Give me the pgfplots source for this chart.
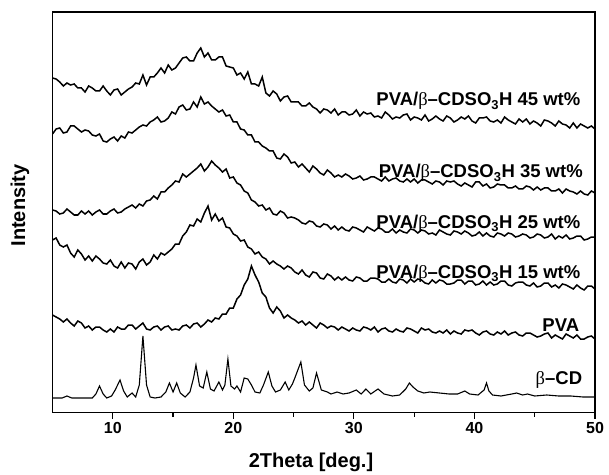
\documentclass[border=0pt]{standalone}
\usepackage{pgfplots}
\pgfplotsset{compat=1.18}
\usepackage{fontspec}
\setmainfont{Liberation Sans}
\newfontfamily\grk{Liberation Serif}
\newcommand{\lab}[1]{PVA/{\grk\mdseries β}–CDSO\textsubscript{3}H #1 wt\%}
\begin{document}
\begin{tikzpicture}
\begin{axis}[
  scale only axis, width=542.5pt, height=400.7pt,
  xmin=5, xmax=50, ymin=61.3, ymax=462,
  xtick={10,20,30,40,50}, minor xtick={15,25,35,45},
  ytick=\empty,
  xtick pos=bottom, tick align=outside,
  major tick length=6pt, minor tick length=4pt,
  every tick/.style={black, line width=1.2pt},
  axis line style={line width=1.3pt},
  /pgf/number format/assume math mode=true,
  xticklabel style={font=\fontsize{16}{18}\selectfont\bfseries},
]
% PVA/beta-CDSO3H 45 wt%
\addplot[black, line width=1.5pt] coordinates {
(5.0,396) (5.3,395) (5.6,392) (5.9,388) (6.2,391) (6.5,389) (6.8,390) (7.1,386) (7.4,386) (7.7,382)
(8.0,388) (8.3,386) (8.6,383) (8.9,383) (9.2,388) (9.5,383) (9.8,379) (10.1,384) (10.4,385) (10.7,379)
(11.0,382) (11.3,385) (11.6,387) (11.9,391) (12.2,390) (12.5,399) (12.8,389) (13.1,397) (13.4,397) (13.7,401)
(14.0,406) (14.3,401) (14.6,409) (14.9,404) (15.2,406) (15.5,411) (15.8,416) (16.1,417) (16.4,413) (16.7,413)
(17.0,421) (17.3,426) (17.6,417) (17.9,421) (18.2,414) (18.5,414) (18.8,417) (19.1,417) (19.4,408) (19.7,407)
(20.0,406) (20.3,399) (20.6,401) (20.9,395) (21.2,402) (21.5,390) (21.8,390) (22.1,388) (22.4,397) (22.7,381)
(23.0,378) (23.3,383) (23.6,380) (23.9,373) (24.2,377) (24.5,378) (24.8,372) (25.1,372) (25.4,372) (25.7,368)
(26.0,368) (26.3,371) (26.6,367) (26.9,365) (27.2,361) (27.5,365) (27.8,364) (28.1,361) (28.4,365) (28.7,359)
(29.0,362) (29.3,362) (29.6,359) (29.9,360) (30.2,364) (30.5,358) (30.8,362) (31.1,360) (31.4,361) (31.7,357)
(32.0,358) (32.3,356) (32.6,362) (32.9,359) (33.2,355) (33.5,357) (33.8,356) (34.1,359) (34.4,360) (34.7,354)
(35.0,357) (35.3,356) (35.6,354) (35.9,359) (36.2,353) (36.5,355) (36.8,358) (37.1,355) (37.4,353) (37.7,358)
(38.0,356) (38.3,352) (38.6,354) (38.9,357) (39.2,355) (39.5,358) (39.8,353) (40.1,351) (40.4,356) (40.7,356)
(41.0,357) (41.3,353) (41.6,352) (41.9,354) (42.2,351) (42.5,357) (42.8,354) (43.1,352) (43.4,350) (43.7,355)
(44.0,352) (44.3,355) (44.6,350) (44.9,353) (45.2,351) (45.5,348) (45.8,354) (46.1,353) (46.4,351) (46.7,348)
(47.0,353) (47.3,350) (47.6,349) (47.9,346) (48.2,351) (48.5,346) (48.8,350) (49.1,348) (49.4,346) (49.7,348) (50.0,345)
};
% 35 wt%
\addplot[black, line width=1.5pt] coordinates {
(5.0,340) (5.3,345) (5.6,346) (5.9,341) (6.2,342) (6.5,348) (6.8,348) (7.1,345) (7.4,342) (7.7,344)
(8.0,343) (8.3,339) (8.6,338) (8.9,340) (9.2,333) (9.5,332) (9.8,335) (10.1,337) (10.4,333) (10.7,338)
(11.0,336) (11.3,342) (11.6,341) (11.9,344) (12.2,347) (12.5,349) (12.8,348) (13.1,352) (13.4,354) (13.7,357)
(14.0,352) (14.3,353) (14.6,356) (14.9,362) (15.2,360) (15.5,367) (15.8,369) (16.1,364) (16.4,365) (16.7,372)
(17.0,367) (17.3,377) (17.6,370) (17.9,372) (18.2,368) (18.5,365) (18.8,362) (19.1,364) (19.4,358) (19.7,359)
(20.0,352) (20.3,352) (20.6,345) (20.9,344) (21.2,339) (21.5,339) (21.8,332) (22.1,332) (22.4,328) (22.7,326)
(23.0,323) (23.3,323) (23.6,316) (23.9,315) (24.2,320) (24.5,317) (24.8,311) (25.1,312) (25.4,307) (25.7,310)
(26.0,306) (26.3,302) (26.6,308) (26.9,305) (27.2,301) (27.5,299) (27.8,304) (28.1,301) (28.4,297) (28.7,299)
(29.0,297) (29.3,300) (29.6,298) (29.9,295) (30.2,296) (30.5,298) (30.8,294) (31.1,295) (31.4,297) (31.7,297)
(32.0,295) (32.3,293) (32.6,297) (32.9,293) (33.2,295) (33.5,296) (33.8,293) (34.1,292) (34.4,295) (34.7,292)
(35.0,295) (35.3,291) (35.6,294) (35.9,294) (36.2,292) (36.5,290) (36.8,293) (37.1,292) (37.4,289) (37.7,293)
(38.0,292) (38.3,293) (38.6,290) (38.9,288) (39.2,291) (39.5,289) (39.8,287) (40.1,292) (40.4,292) (40.7,288)
(41.0,290) (41.3,286) (41.6,287) (41.9,290) (42.2,289) (42.5,289) (42.8,286) (43.1,286) (43.4,288) (43.7,285)
(44.0,285) (44.3,288) (44.6,287) (44.9,284) (45.2,287) (45.5,284) (45.8,286) (46.1,286) (46.4,283) (46.7,283)
(47.0,285) (47.3,281) (47.6,285) (47.9,283) (48.2,282) (48.5,280) (48.8,283) (49.1,280) (49.4,279) (49.7,283) (50.0,281)
};
% 25 wt%
\addplot[black, line width=1.5pt] coordinates {
(5.0,264) (5.3,263) (5.6,260) (5.9,261) (6.2,265) (6.5,262) (6.8,259) (7.1,259) (7.4,263) (7.7,260)
(8.0,263) (8.3,259) (8.6,262) (8.9,264) (9.2,260) (9.5,260) (9.8,263) (10.1,265) (10.4,261) (10.7,262)
(11.0,265) (11.3,267) (11.6,269) (11.9,266) (12.2,270) (12.5,268) (12.8,273) (13.1,274) (13.4,278) (13.7,275)
(14.0,282) (14.3,282) (14.6,286) (14.9,289) (15.2,293) (15.5,292) (15.8,300) (16.1,297) (16.4,300) (16.7,303)
(17.0,306) (17.3,310) (17.6,303) (17.9,307) (18.2,313) (18.5,309) (18.8,306) (19.1,302) (19.4,305) (19.7,296)
(20.0,297) (20.3,291) (20.6,289) (20.9,283) (21.2,281) (21.5,274) (21.8,272) (22.1,268) (22.4,269) (22.7,264)
(23.0,266) (23.3,260) (23.6,259) (23.9,263) (24.2,261) (24.5,256) (24.8,257) (25.1,256) (25.4,254) (25.7,251)
(26.0,250) (26.3,253) (26.6,252) (26.9,248) (27.2,247) (27.5,250) (27.8,249) (28.1,245) (28.4,248) (28.7,244)
(29.0,247) (29.3,244) (29.6,243) (29.9,247) (30.2,246) (30.5,244) (30.8,242) (31.1,247) (31.4,245) (31.7,243)
(32.0,246) (32.3,245) (32.6,242) (32.9,242) (33.2,245) (33.5,241) (33.8,244) (34.1,242) (34.4,241) (34.7,245)
(35.0,244) (35.3,241) (35.6,244) (35.9,243) (36.2,240) (36.5,241) (36.8,239) (37.1,244) (37.4,242) (37.7,240)
(38.0,239) (38.3,243) (38.6,242) (38.9,240) (39.2,243) (39.5,241) (39.8,238) (40.1,239) (40.4,242) (40.7,238)
(41.0,241) (41.3,238) (41.6,237) (41.9,241) (42.2,240) (42.5,238) (42.8,241) (43.1,240) (43.4,237) (43.7,238)
(44.0,240) (44.3,239) (44.6,236) (44.9,237) (45.2,240) (45.5,239) (45.8,236) (46.1,237) (46.4,240) (46.7,235)
(47.0,238) (47.3,236) (47.6,239) (47.9,235) (48.2,236) (48.5,238) (48.8,238) (49.1,234) (49.4,235) (49.7,237) (50.0,237)
};
% 15 wt%
\addplot[black, line width=1.5pt] coordinates {
(5.0,234) (5.3,236) (5.6,229) (5.9,227) (6.2,229) (6.5,221) (6.8,217) (7.1,224) (7.4,220) (7.7,214)
(8.0,218) (8.3,213) (8.6,218) (8.9,215) (9.2,211) (9.5,210) (9.8,214) (10.1,208) (10.4,206) (10.7,212)
(11.0,206) (11.3,211) (11.6,210) (11.9,205) (12.2,212) (12.5,215) (12.8,209) (13.1,212) (13.4,219) (13.7,215)
(14.0,221) (14.3,219) (14.6,222) (14.9,225) (15.2,230) (15.5,230) (15.8,238) (16.1,242) (16.4,249) (16.7,248)
(17.0,255) (17.3,252) (17.6,261) (17.9,268) (18.2,254) (18.5,260) (18.8,253) (19.1,256) (19.4,247) (19.7,246)
(20.0,240) (20.3,238) (20.6,233) (20.9,234) (21.2,227) (21.5,225) (21.8,220) (22.1,222) (22.4,217) (22.7,215)
(23.0,210) (23.3,213) (23.6,210) (23.9,208) (24.2,205) (24.5,208) (24.8,206) (25.1,202) (25.4,200) (25.7,204)
(26.0,199) (26.3,197) (26.6,202) (26.9,201) (27.2,196) (27.5,195) (27.8,200) (28.1,198) (28.4,194) (28.7,197)
(29.0,194) (29.3,197) (29.6,194) (29.9,193) (30.2,197) (30.5,196) (30.8,193) (31.1,193) (31.4,196) (31.7,196)
(32.0,195) (32.3,192) (32.6,192) (32.9,195) (33.2,192) (33.5,191) (33.8,195) (34.1,194) (34.4,191) (34.7,195)
(35.0,192) (35.3,195) (35.6,194) (35.9,191) (36.2,190) (36.5,194) (36.8,191) (37.1,194) (37.4,193) (37.7,190)
(38.0,190) (38.3,191) (38.6,194) (38.9,194) (39.2,190) (39.5,193) (39.8,193) (40.1,189) (40.4,190) (40.7,193)
(41.0,189) (41.3,192) (41.6,189) (41.9,190) (42.2,193) (42.5,193) (42.8,189) (43.1,188) (43.4,191) (43.7,192)
(44.0,192) (44.3,189) (44.6,188) (44.9,191) (45.2,187) (45.5,188) (45.8,191) (46.1,191) (46.4,187) (46.7,189)
(47.0,186) (47.3,190) (47.6,189) (47.9,187) (48.2,185) (48.5,189) (48.8,186) (49.1,184) (49.4,188) (49.7,188) (50.0,185)
};
% PVA
\addplot[black, line width=1.5pt] coordinates {
(5.0,159) (5.3,157) (5.6,155) (5.9,152) (6.2,155) (6.5,151) (6.8,148) (7.1,153) (7.4,151) (7.7,146)
(8.0,148) (8.3,144) (8.6,147) (8.9,147) (9.2,144) (9.5,142) (9.8,145) (10.1,142) (10.4,147) (10.7,145)
(11.0,145) (11.3,149) (11.6,149) (11.9,145) (12.2,148) (12.5,151) (12.8,145) (13.1,144) (13.4,147) (13.7,148)
(14.0,144) (14.3,147) (14.6,148) (14.9,144) (15.2,145) (15.5,144) (15.8,148) (16.1,149) (16.4,146) (16.7,150)
(17.0,151) (17.3,147) (17.6,150) (17.9,154) (18.2,152) (18.5,156) (18.8,155) (19.1,160) (19.4,160) (19.7,166)
(20.0,166) (20.3,175) (20.6,179) (20.9,189) (21.2,195) (21.5,208) (21.8,199) (22.1,192) (22.4,181) (22.7,177)
(23.0,166) (23.3,161) (23.6,167) (23.9,163) (24.2,156) (24.5,159) (24.8,156) (25.1,154) (25.4,151) (25.7,153)
(26.0,149) (26.3,152) (26.6,149) (26.9,146) (27.2,151) (27.5,149) (27.8,146) (28.1,148) (28.4,147) (28.7,144)
(29.0,147) (29.3,145) (29.6,143) (29.9,146) (30.2,144) (30.5,143) (30.8,147) (31.1,146) (31.4,144) (31.7,147)
(32.0,142) (32.3,145) (32.6,146) (32.9,143) (33.2,142) (33.5,145) (33.8,143) (34.1,142) (34.4,146) (34.7,145)
(35.0,143) (35.3,141) (35.6,146) (35.9,144) (36.2,145) (36.5,142) (36.8,141) (37.1,143) (37.4,141) (37.7,144)
(38.0,140) (38.3,143) (38.6,141) (38.9,140) (39.2,144) (39.5,143) (39.8,144) (40.1,141) (40.4,139) (40.7,142)
(41.0,143) (41.3,140) (41.6,139) (41.9,142) (42.2,140) (42.5,143) (42.8,139) (43.1,141) (43.4,142) (43.7,139)
(44.0,138) (44.3,141) (44.6,141) (44.9,139) (45.2,137) (45.5,138) (45.8,140) (46.1,141) (46.4,136) (46.7,139)
(47.0,137) (47.3,135) (47.6,140) (47.9,138) (48.2,136) (48.5,139) (48.8,135) (49.1,135) (49.4,137) (49.7,138) (50.0,135)
};
% beta-CD
\addplot[black, line width=1.1pt] coordinates {
(5.0,76) (5.8,76) (6.2,78) (6.6,76) (7.5,76) (8.3,76) (8.6,80) (8.9,88) (9.2,80) (9.5,76)
(9.9,78) (10.2,84) (10.6,94) (10.9,83) (11.2,77) (11.6,81) (11.9,77) (12.2,89) (12.5,138) (12.8,89)
(13.1,77) (13.5,76) (14.0,77) (14.4,82) (14.7,91) (15.0,82) (15.3,91) (15.6,81) (16.0,77) (16.4,82)
(16.7,96) (16.9,109) (17.2,88) (17.5,86) (17.8,102) (18.1,85) (18.4,83) (18.8,92) (19.1,84) (19.3,89)
(19.55,115) (19.8,88) (20.1,85) (20.3,88) (20.6,82) (20.9,96) (21.2,95) (21.5,89) (21.8,82) (22.2,81)
(22.5,89) (22.9,102) (23.2,88) (23.5,82) (23.9,84) (24.3,92) (24.6,84) (24.9,90) (25.1,96) (25.6,112)
(25.9,89) (26.3,83) (26.6,86) (26.9,101) (27.3,84) (27.8,82) (28.1,80) (28.6,82) (29.1,80) (29.6,81)
(30.2,84) (30.6,80) (31.0,85) (31.4,80) (32.0,85) (32.5,80) (33.2,78) (33.8,79) (34.3,85) (34.6,91)
(34.9,87) (35.3,83) (35.8,81) (36.3,82) (37.1,81) (37.9,80) (38.6,80) (39.2,83) (39.6,80) (40.3,79)
(40.8,84) (41.0,91) (41.2,83) (41.5,79) (42.2,78) (43.1,80) (43.5,81) (44.0,79) (44.4,80) (45.0,78)
(46.0,79) (47.0,78) (48.0,78) (49.0,77) (50.0,77)
};
\begin{scope}[font=\fontsize{18.5}{22}\selectfont\bfseries]
\node[anchor=base east, inner sep=0pt] at (axis cs:48.8,368) {\lab{45}};
\node[anchor=base east, inner sep=0pt] at (axis cs:49.0,296) {\lab{35}};
\node[anchor=base east, inner sep=0pt] at (axis cs:48.8,246) {\lab{25}};
\node[anchor=base east, inner sep=0pt] at (axis cs:48.8,196) {\lab{15}};
\node[anchor=base east, inner sep=0pt] at (axis cs:48.7,143) {PVA};
\node[anchor=base east, inner sep=0pt] at (axis cs:48.95,90) {{\grk\mdseries β}–CD};
\end{scope}
\end{axis}
\node[font=\fontsize{20}{24}\selectfont\bfseries] at ([xshift=-12.75pt,yshift=-49.3pt]current axis.south) {2Theta [deg.]};
\node[font=\fontsize{20}{24}\selectfont\bfseries, rotate=90] at ([xshift=-32.5pt,yshift=7pt]current axis.west) {Intensity};
\pgfresetboundingbox
\path[use as bounding box] ([xshift=-52.5pt,yshift=-61.3pt]current axis.south west) rectangle ([xshift=14pt,yshift=12pt]current axis.north east);
\end{tikzpicture}
\end{document}
